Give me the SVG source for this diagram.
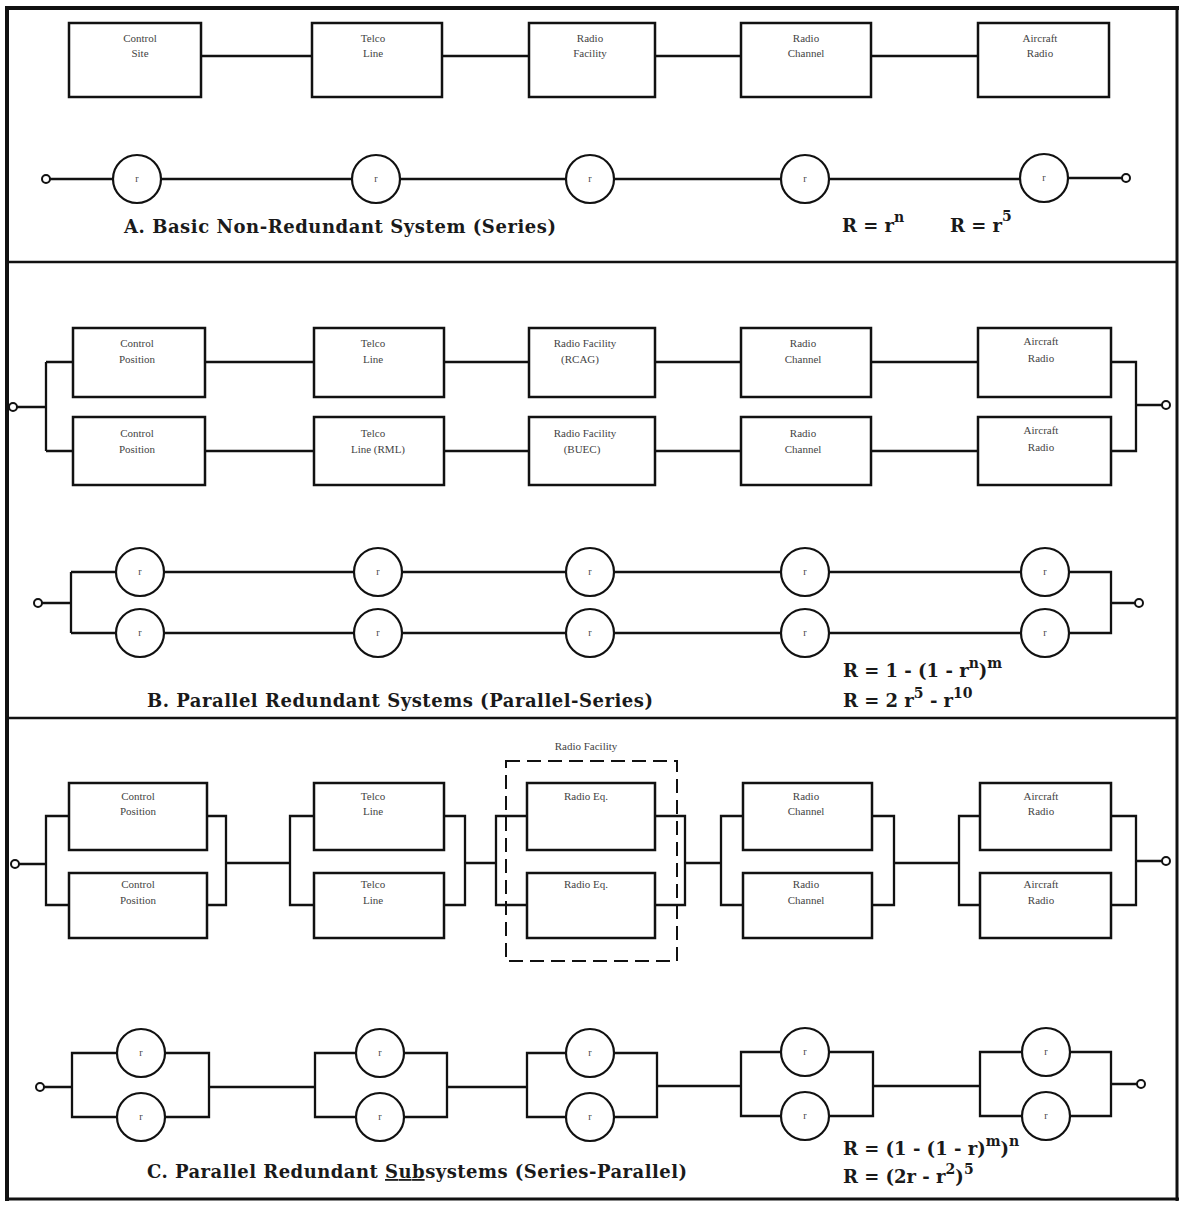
<svg xmlns="http://www.w3.org/2000/svg" width="1183" height="1205" viewBox="0 0 1183 1205">
<style>
.bx{fill:none;stroke:#111;stroke-width:2.5}
.ci{fill:none;stroke:#111;stroke-width:2.2}
.tm{fill:#fff;stroke:#111;stroke-width:2}
.ln{fill:none;stroke:#111;stroke-width:2.3}
.fr{fill:none;stroke:#111}
.bt{font-family:"Liberation Serif",serif;font-size:11px;fill:#444;text-anchor:middle}
.r{font-family:"Liberation Serif",serif;font-size:10px;fill:#444;text-anchor:middle}
.ti{font-family:"DejaVu Serif","Liberation Serif",serif;font-size:18px;font-weight:bold;fill:#1a1a1a}
.fo{font-family:"DejaVu Serif","Liberation Serif",serif;font-size:18px;font-weight:bold;fill:#1a1a1a}
.sp{font-size:14px}
.dash{fill:none;stroke:#111;stroke-width:2;stroke-dasharray:14 7}
</style>
<rect width="1183" height="1205" fill="#fff"/>
<g id="frame">
<line class="fr" x1="5" y1="8" x2="1179" y2="8" stroke-width="4"/>
<line class="fr" x1="7" y1="6" x2="7" y2="1201" stroke-width="4"/>
<line class="fr" x1="1177" y1="6" x2="1177" y2="1201" stroke-width="3"/>
<line class="fr" x1="5" y1="1199" x2="1179" y2="1199" stroke-width="3"/>
<line class="fr" x1="7" y1="262" x2="1177" y2="262" stroke-width="2.5"/>
<line class="fr" x1="7" y1="718" x2="1177" y2="718" stroke-width="2.5"/>
</g>
<g id="connectors">
<path class="ln" d="M201 56H312M442 56H529M655 56H741M871 56H978"/>
<path class="ln" d="M50 179H113M161 179H352M400 179H566M614 179H781M829 179H1020M1068 178H1122"/>
<path class="ln" d="M17 407H46M46 362V451M46 362H73M46 451H73"/>
<path class="ln" d="M205 362H314M444 362H529M655 362H741M871 362H978"/>
<path class="ln" d="M205 451H314M444 451H529M655 451H741M871 451H978"/>
<path class="ln" d="M1111 362H1136V451H1111M1136 405H1162"/>
<path class="ln" d="M42 603H71M71 572V633M71 572H116M71 633H116"/>
<path class="ln" d="M164 572H354M402 572H566M614 572H781M829 572H1021"/>
<path class="ln" d="M164 633H354M402 633H566M614 633H781M829 633H1021"/>
<path class="ln" d="M1069 572H1111V633H1069M1111 603H1135"/>
<path class="ln" d="M19 864H46M69 816H46V905H69M207 816H226V905H207"/>
<path class="ln" d="M226 863H290M314 816H290V905H314M444 816H465V905H444"/>
<path class="ln" d="M465 863H496M527 816H496V905H527M655 816H685V905H655"/>
<path class="ln" d="M685 863H721M743 816H721V905H743M872 816H894V905H872"/>
<path class="ln" d="M894 863H959M980 816H959V905H980M1111 816H1136V905H1111M1136 861H1162"/>
<path class="ln" d="M44 1087H72M117 1053H72V1117H117M165 1053H209V1117H165"/>
<path class="ln" d="M209 1087H315M356 1053H315V1117H356M404 1053H447V1117H404"/>
<path class="ln" d="M447 1087H527M566 1053H527V1117H566M614 1053H657V1117H614"/>
<path class="ln" d="M657 1086H741M781 1052H741V1116H781M829 1052H873V1116H829"/>
<path class="ln" d="M873 1086H980M1022 1052H980V1116H1022M1070 1052H1111V1116H1070M1111 1084H1137"/>
</g>
<g id="a-control-site"><rect class="bx" x="69" y="23" width="132" height="74"/><text class="bt" x="140" y="42">Control</text><text class="bt" x="140" y="57">Site</text></g>
<g id="a-telco-line"><rect class="bx" x="312" y="23" width="130" height="74"/><text class="bt" x="373" y="42">Telco</text><text class="bt" x="373" y="57">Line</text></g>
<g id="a-radio-facility"><rect class="bx" x="529" y="23" width="126" height="74"/><text class="bt" x="590" y="42">Radio</text><text class="bt" x="590" y="57">Facility</text></g>
<g id="a-radio-channel"><rect class="bx" x="741" y="23" width="130" height="74"/><text class="bt" x="806" y="42">Radio</text><text class="bt" x="806" y="57">Channel</text></g>
<g id="a-aircraft-radio"><rect class="bx" x="978" y="23" width="131" height="74"/><text class="bt" x="1040" y="42">Aircraft</text><text class="bt" x="1040" y="57">Radio</text></g>
<g id="a-in"><circle class="tm" cx="46" cy="179" r="4"/></g>
<g id="a-out"><circle class="tm" cx="1126" cy="178" r="4"/></g>
<g id="a-r1"><circle class="ci" cx="137" cy="179" r="24"/><text class="r" x="137" y="182">r</text></g>
<g id="a-r2"><circle class="ci" cx="376" cy="179" r="24"/><text class="r" x="376" y="182">r</text></g>
<g id="a-r3"><circle class="ci" cx="590" cy="179" r="24"/><text class="r" x="590" y="182">r</text></g>
<g id="a-r4"><circle class="ci" cx="805" cy="179" r="24"/><text class="r" x="805" y="182">r</text></g>
<g id="a-r5"><circle class="ci" cx="1044" cy="178" r="24"/><text class="r" x="1044" y="181">r</text></g>
<text class="ti" x="124" y="233" textLength="432">A.  Basic Non-Redundant System (Series)</text>
<text class="fo" x="842" y="232">R = r<tspan class="sp" dy="-10">n</tspan></text>
<text class="fo" x="950" y="232">R = r<tspan class="sp" dy="-11">5</tspan></text>
<g id="b-control-position-1"><rect class="bx" x="73" y="328" width="132" height="69"/><text class="bt" x="137" y="347">Control</text><text class="bt" x="137" y="363">Position</text></g>
<g id="b-telco-line-1"><rect class="bx" x="314" y="328" width="130" height="69"/><text class="bt" x="373" y="347">Telco</text><text class="bt" x="373" y="363">Line</text></g>
<g id="b-radio-facility-1"><rect class="bx" x="529" y="328" width="126" height="69"/><text class="bt" x="585" y="347">Radio Facility</text><text class="bt" x="580" y="363">(RCAG)</text></g>
<g id="b-radio-channel-1"><rect class="bx" x="741" y="328" width="130" height="69"/><text class="bt" x="803" y="347">Radio</text><text class="bt" x="803" y="363">Channel</text></g>
<g id="b-aircraft-radio-1"><rect class="bx" x="978" y="328" width="133" height="69"/><text class="bt" x="1041" y="345">Aircraft</text><text class="bt" x="1041" y="362">Radio</text></g>
<g id="b-control-position-2"><rect class="bx" x="73" y="417" width="132" height="68"/><text class="bt" x="137" y="437">Control</text><text class="bt" x="137" y="453">Position</text></g>
<g id="b-telco-line-2"><rect class="bx" x="314" y="417" width="130" height="68"/><text class="bt" x="373" y="437">Telco</text><text class="bt" x="378" y="453">Line (RML)</text></g>
<g id="b-radio-facility-2"><rect class="bx" x="529" y="417" width="126" height="68"/><text class="bt" x="585" y="437">Radio Facility</text><text class="bt" x="582" y="453">(BUEC)</text></g>
<g id="b-radio-channel-2"><rect class="bx" x="741" y="417" width="130" height="68"/><text class="bt" x="803" y="437">Radio</text><text class="bt" x="803" y="453">Channel</text></g>
<g id="b-aircraft-radio-2"><rect class="bx" x="978" y="417" width="133" height="68"/><text class="bt" x="1041" y="434">Aircraft</text><text class="bt" x="1041" y="451">Radio</text></g>
<g id="b-in"><circle class="tm" cx="13" cy="407" r="4"/></g>
<g id="b-out"><circle class="tm" cx="1166" cy="405" r="4"/></g>
<g id="b-r1"><circle class="ci" cx="140" cy="572" r="24"/><text class="r" x="140" y="575">r</text></g>
<g id="b-r2"><circle class="ci" cx="378" cy="572" r="24"/><text class="r" x="378" y="575">r</text></g>
<g id="b-r3"><circle class="ci" cx="590" cy="572" r="24"/><text class="r" x="590" y="575">r</text></g>
<g id="b-r4"><circle class="ci" cx="805" cy="572" r="24"/><text class="r" x="805" y="575">r</text></g>
<g id="b-r5"><circle class="ci" cx="1045" cy="572" r="24"/><text class="r" x="1045" y="575">r</text></g>
<g id="b-r6"><circle class="ci" cx="140" cy="633" r="24"/><text class="r" x="140" y="636">r</text></g>
<g id="b-r7"><circle class="ci" cx="378" cy="633" r="24"/><text class="r" x="378" y="636">r</text></g>
<g id="b-r8"><circle class="ci" cx="590" cy="633" r="24"/><text class="r" x="590" y="636">r</text></g>
<g id="b-r9"><circle class="ci" cx="805" cy="633" r="24"/><text class="r" x="805" y="636">r</text></g>
<g id="b-r10"><circle class="ci" cx="1045" cy="633" r="24"/><text class="r" x="1045" y="636">r</text></g>
<g id="b-in2"><circle class="tm" cx="38" cy="603" r="4"/></g>
<g id="b-out2"><circle class="tm" cx="1139" cy="603" r="4"/></g>
<text class="ti" x="147" y="707" textLength="506">B.  Parallel Redundant Systems (Parallel-Series)</text>
<text class="fo" x="843" y="677">R = 1 - (1 - r<tspan class="sp" dy="-9">n</tspan><tspan dy="9">)</tspan><tspan class="sp" dy="-9">m</tspan></text>
<text class="fo" x="843" y="707">R = 2 r<tspan class="sp" dy="-9">5</tspan><tspan dy="9"> - r</tspan><tspan class="sp" dy="-9">10</tspan></text>
<g id="c-radio-facility-group"><rect class="dash" x="506" y="761" width="171" height="200"/><text class="bt" x="586" y="750">Radio Facility</text></g>
<g id="c-control-position-1"><rect class="bx" x="69" y="783" width="138" height="67"/><text class="bt" x="138" y="800">Control</text><text class="bt" x="138" y="815">Position</text></g>
<g id="c-telco-line-1"><rect class="bx" x="314" y="783" width="130" height="67"/><text class="bt" x="373" y="800">Telco</text><text class="bt" x="373" y="815">Line</text></g>
<g id="c-radio-eq-1"><rect class="bx" x="527" y="783" width="128" height="67"/><text class="bt" x="586" y="800">Radio Eq.</text></g>
<g id="c-radio-channel-1"><rect class="bx" x="743" y="783" width="129" height="67"/><text class="bt" x="806" y="800">Radio</text><text class="bt" x="806" y="815">Channel</text></g>
<g id="c-aircraft-radio-1"><rect class="bx" x="980" y="783" width="131" height="67"/><text class="bt" x="1041" y="800">Aircraft</text><text class="bt" x="1041" y="815">Radio</text></g>
<g id="c-control-position-2"><rect class="bx" x="69" y="873" width="138" height="65"/><text class="bt" x="138" y="888">Control</text><text class="bt" x="138" y="904">Position</text></g>
<g id="c-telco-line-2"><rect class="bx" x="314" y="873" width="130" height="65"/><text class="bt" x="373" y="888">Telco</text><text class="bt" x="373" y="904">Line</text></g>
<g id="c-radio-eq-2"><rect class="bx" x="527" y="873" width="128" height="65"/><text class="bt" x="586" y="888">Radio Eq.</text></g>
<g id="c-radio-channel-2"><rect class="bx" x="743" y="873" width="129" height="65"/><text class="bt" x="806" y="888">Radio</text><text class="bt" x="806" y="904">Channel</text></g>
<g id="c-aircraft-radio-2"><rect class="bx" x="980" y="873" width="131" height="65"/><text class="bt" x="1041" y="888">Aircraft</text><text class="bt" x="1041" y="904">Radio</text></g>
<g id="c-in"><circle class="tm" cx="15" cy="864" r="4"/></g>
<g id="c-out"><circle class="tm" cx="1166" cy="861" r="4"/></g>
<g id="c-r1"><circle class="ci" cx="141" cy="1053" r="24"/><text class="r" x="141" y="1056">r</text></g>
<g id="c-r2"><circle class="ci" cx="141" cy="1117" r="24"/><text class="r" x="141" y="1120">r</text></g>
<g id="c-r3"><circle class="ci" cx="380" cy="1053" r="24"/><text class="r" x="380" y="1056">r</text></g>
<g id="c-r4"><circle class="ci" cx="380" cy="1117" r="24"/><text class="r" x="380" y="1120">r</text></g>
<g id="c-r5"><circle class="ci" cx="590" cy="1053" r="24"/><text class="r" x="590" y="1056">r</text></g>
<g id="c-r6"><circle class="ci" cx="590" cy="1117" r="24"/><text class="r" x="590" y="1120">r</text></g>
<g id="c-r7"><circle class="ci" cx="805" cy="1052" r="24"/><text class="r" x="805" y="1055">r</text></g>
<g id="c-r8"><circle class="ci" cx="805" cy="1116" r="24"/><text class="r" x="805" y="1119">r</text></g>
<g id="c-r9"><circle class="ci" cx="1046" cy="1052" r="24"/><text class="r" x="1046" y="1055">r</text></g>
<g id="c-r10"><circle class="ci" cx="1046" cy="1116" r="24"/><text class="r" x="1046" y="1119">r</text></g>
<g id="c-in2"><circle class="tm" cx="40" cy="1087" r="4"/></g>
<g id="c-out2"><circle class="tm" cx="1141" cy="1084" r="4"/></g>
<text class="ti" x="147" y="1178" textLength="540">C.  Parallel Redundant <tspan style="text-decoration:underline">Sub</tspan>systems (Series-Parallel)</text>
<text class="fo" x="843" y="1155">R = (1 - (1 - r)<tspan class="sp" dy="-9">m</tspan><tspan dy="9">)</tspan><tspan class="sp" dy="-9">n</tspan></text>
<text class="fo" x="843" y="1183">R = (2r - r<tspan class="sp" dy="-9">2</tspan><tspan dy="9">)</tspan><tspan class="sp" dy="-9">5</tspan></text>
</svg>
